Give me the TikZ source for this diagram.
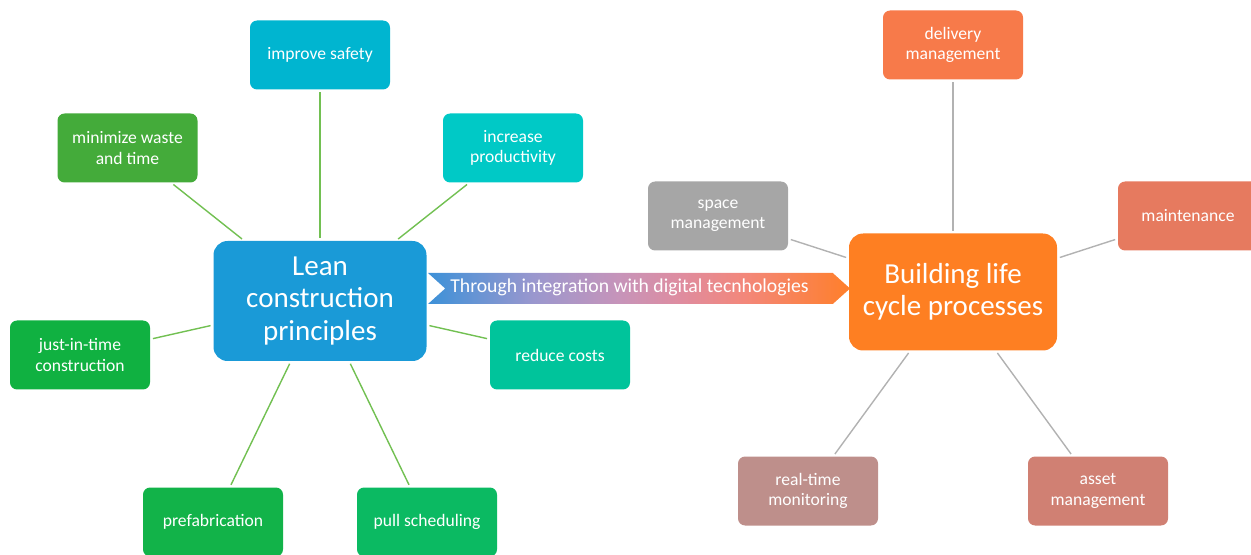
\documentclass[tikz,border=0pt]{standalone}
\usepackage{fontspec}
\setmainfont{Carlito}
\usetikzlibrary{shapes.symbols}

\definecolor{leanblue}{HTML}{1A9AD7}
\definecolor{lifeorange}{HTML}{FE7F22}
\definecolor{safetycyan}{HTML}{00B5D0}
\definecolor{wastegreen}{HTML}{44AB3A}
\definecolor{prodturq}{HTML}{00C9C6}
\definecolor{jitgreen}{HTML}{10B141}
\definecolor{coststeal}{HTML}{00C49B}
\definecolor{prefabgreen}{HTML}{12B349}
\definecolor{pullgreen}{HTML}{0BBA62}
\definecolor{delivred}{HTML}{F77A4A}
\definecolor{spacegray}{HTML}{A6A6A6}
\definecolor{maintred}{HTML}{E67A5F}
\definecolor{monitorrose}{HTML}{BE8F8B}
\definecolor{assetrose}{HTML}{D08073}
\definecolor{linegreen}{HTML}{72C052}
\definecolor{linegray}{HTML}{B2B2B2}
% Farbverlauf fuer den Pfeil
\definecolor{bandA}{HTML}{3D91D8}
\definecolor{bandB}{HTML}{9A97CE}
\definecolor{bandC}{HTML}{C694BA}
\definecolor{bandD}{HTML}{DF8C9F}
\definecolor{bandE}{HTML}{F3877A}
\definecolor{bandF}{HTML}{FF7F2A}
\pgfdeclarehorizontalshading{bandshade}{100bp}{color(0bp)=(bandA);
	color(25bp)=(bandA); color(37.5bp)=(bandB); color(47.5bp)=(bandC);
	color(55bp)=(bandD); color(62.5bp)=(bandE); color(75bp)=(bandF);
	color(100bp)=(bandF)}

\begin{document}
\begin{tikzpicture}[box/.style={rectangle, rounded corners=4pt, fill=#1,
	text=white, minimum width=2.8cm, minimum height=1.38cm, inner sep=2pt,
	align=center, font=\fontsize{10}{11.5}\selectfont},
	hub/.style={rectangle, rounded corners=8pt, fill=#1, text=white,
	inner sep=2pt, align=center, font=\fontsize{16.5}{18.5}\selectfont},
	leanline/.style={draw=linegreen, line width=0.8pt, shorten <=1.5pt, shorten >=1.5pt},
	lifeline/.style={draw=linegray, line width=0.8pt, shorten <=1.5pt, shorten >=1.5pt}]
\useasboundingbox (0,0) rectangle (25.02,11.08);
%Verbindungspfeil
\node [signal, signal from=west, signal to=east, signal pointer angle=84,
	minimum width=8.44cm, minimum height=0.62cm, inner sep=0pt,
	shading=bandshade, name=band] at (12.78,5.31) {};
\node [text=white, font=\fontsize{11.2}{13}\selectfont, name=bandtext] at (12.59,5.33)
	{Through integration with digital tecnhologies};
%Lean-Seite
\node [hub=leanblue, minimum width=4.26cm, minimum height=2.4cm, name=lean] at (6.4,5.06)
	{Lean\\construction\\principles};
\node [box=safetycyan, name=safety] at (6.4,9.98) {improve safety};
\node [box=wastegreen, name=waste] at (2.55,8.12) {minimize waste\\and time};
\node [box=prodturq, name=prod] at (10.26,8.12) {increase\\productivity};
\node [box=jitgreen, name=jit] at (1.6,3.98) {just-in-time\\construction};
\node [box=coststeal, name=costs] at (11.2,3.98) {reduce costs};
\node [box=prefabgreen, name=prefab] at (4.26,0.64) {prefabrication};
\node [box=pullgreen, name=pull] at (8.54,0.64) {pull scheduling};
%Lebenszyklus-Seite
\node [hub=lifeorange, minimum width=4.16cm, minimum height=2.34cm, name=life] at (19.06,5.24)
	{Building life\\cycle processes};
\node [box=delivred, name=deliv] at (19.06,10.18) {delivery\\management};
\node [box=spacegray, name=space] at (14.36,6.76) {space\\management};
\node [box=maintred, name=maint] at (23.76,6.76) {maintenance};
\node [box=monitorrose, name=monitor] at (16.16,1.26) {real-time\\monitoring};
\node [box=assetrose, name=asset] at (21.96,1.26) {asset\\management};
%Verbindungen
\foreach \n in {safety,waste,prod,jit,costs,prefab,pull}
\draw [leanline] (lean)--(\n);
\foreach \n in {deliv,space,maint,monitor,asset}
\draw [lifeline] (life)--(\n);
\end{tikzpicture}
\end{document}
